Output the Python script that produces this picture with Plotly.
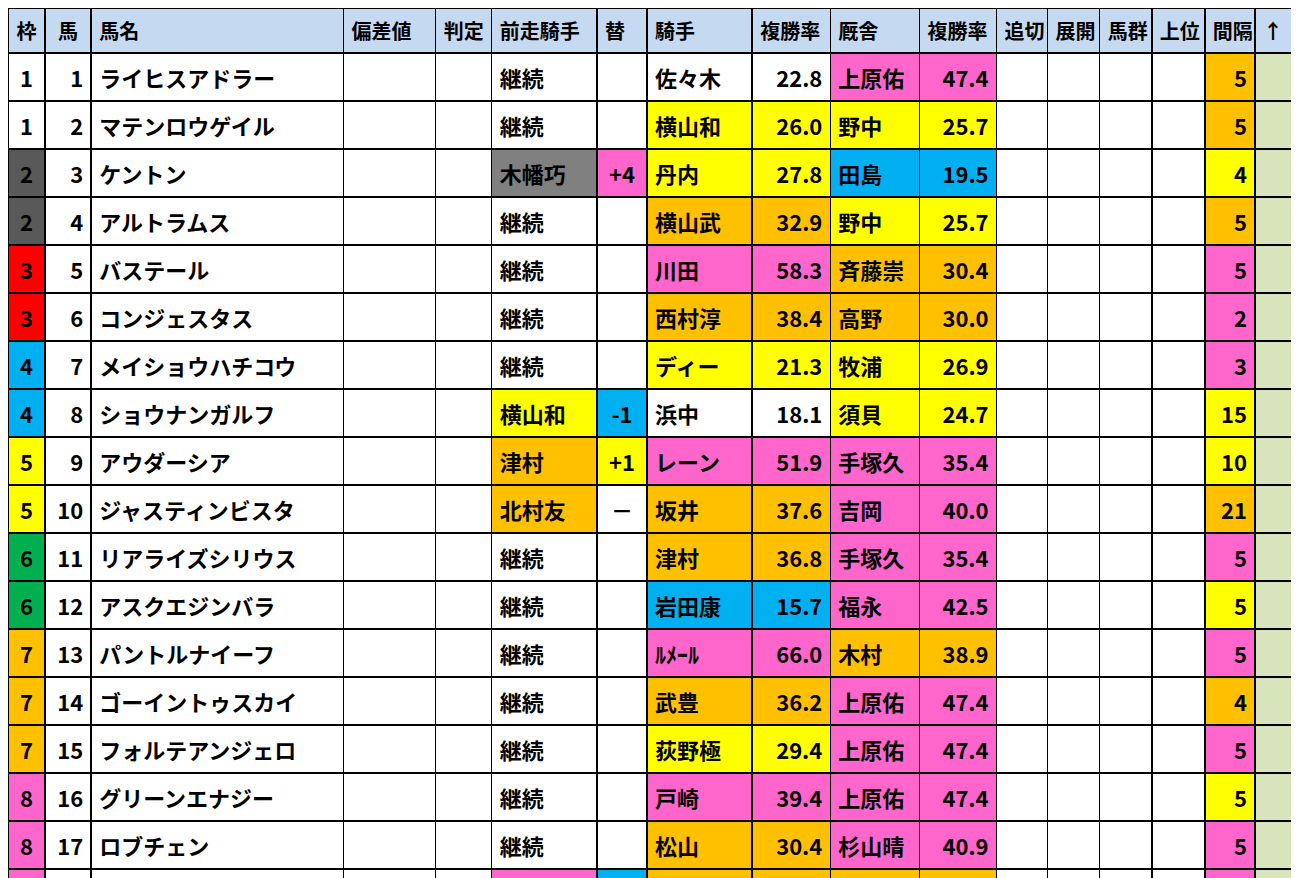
import plotly.graph_objects as go

headers = ['枠', '馬', '馬名', '偏差値', '判定', '前走騎手', '替', '騎手', '複勝率',
           '厩舎', '複勝率', '追切', '展開', '馬群', '上位', '間隔', '↑']

waku = [1, 1, 2, 2, 3, 3, 4, 4, 5, 5, 6, 6, 7, 7, 7, 8, 8, 8]
uma = list(range(1, 19))
names = ['ライヒスアドラー', 'マテンロウゲイル', 'ケントン', 'アルトラムス', 'バステール',
         'コンジェスタス', 'メイショウハチコウ', 'ショウナンガルフ', 'アウダーシア',
         'ジャスティンビスタ', 'リアライズシリウス', 'アスクエジンバラ', 'パントルナイーフ',
         'ゴーイントゥスカイ', 'フォルテアンジェロ', 'グリーンエナジー', 'ロブチェン', 'エムズビギン']
prev_jockey = ['継続', '継続', '木幡巧', '継続', '継続', '継続', '継続', '横山和', '津村',
               '北村友', '継続', '継続', '継続', '継続', '継続', '継続', '継続', '川田']
change = ['', '', '+4', '', '', '', '', '-1', '+1', '－', '', '', '', '', '', '', '', '-1']
jockey = ['佐々木', '横山和', '丹内', '横山武', '川田', '西村淳', 'ディー', '浜中', 'レーン',
          '坂井', '津村', '岩田康', 'ﾙﾒｰﾙ', '武豊', '荻野極', '戸崎', '松山', 'ｺﾞﾝｻﾙﾍﾞ']
jockey_rate = [22.8, 26.0, 27.8, 32.9, 58.3, 38.4, 21.3, 18.1, 51.9, 37.6, 36.8, 15.7,
               66.0, 36.2, 29.4, 39.4, 30.4, 36.7]
trainer = ['上原佑', '野中', '田島', '野中', '斉藤崇', '高野', '牧浦', '須貝', '手塚久', '吉岡',
           '手塚久', '福永', '木村', '上原佑', '上原佑', '上原佑', '杉山晴', '友道']
trainer_rate = [47.4, 25.7, 19.5, 25.7, 30.4, 30.0, 26.9, 24.7, 35.4, 40.0, 35.4, 42.5,
                38.9, 47.4, 47.4, 47.4, 40.9, 30.0]
interval = [5, 5, 4, 5, 5, 2, 3, 15, 10, 21, 5, 5, 5, 4, 5, 5, 5, 2]

# colour codes: W white, Y yellow, O orange, P pink, B blue, G gray
prev_col = list('WWGWWWWYOOWWWWWWWP')
change_col = list('WWPWWWWBYWWWWWWWWB')
jockey_col = list('WYYOPOYWPOOBPOYPOO')
trainer_col = list('PYBYOOYYPPPPOPPPPO')
interval_col = list('OOYOPPPYYOPYPOPYPP')

C = {'W': 'white', 'Y': '#ffff00', 'O': '#ffc000', 'P': '#ff66cc', 'B': '#00b0f0', 'G': '#808080'}
waku_colors = {1: 'white', 2: '#595959', 3: '#ff0000', 4: '#00b0f0', 5: '#ffff00',
               6: '#00b050', 7: '#ffc000', 8: '#ff66cc'}


def bold(col):
    return [f'<b>{v}</b>' if v != '' else '' for v in col]


n = len(uma)
blank = [''] * n
white = ['white'] * n
values = [bold(waku), bold(uma), bold(names), blank, blank, bold(prev_jockey), bold(change),
          bold(jockey), bold([f'{v:.1f}' for v in jockey_rate]), bold(trainer),
          bold([f'{v:.1f}' for v in trainer_rate]),
          blank, blank, blank, blank, bold(interval), blank]
fills = [[waku_colors[w] for w in waku], white, white, white, white,
         [C[c] for c in prev_col], [C[c] for c in change_col],
         [C[c] for c in jockey_col], [C[c] for c in jockey_col],
         [C[c] for c in trainer_col], [C[c] for c in trainer_col],
         white, white, white, white, [C[c] for c in interval_col], ['#d8e4bc'] * n]
aligns = ['center', 'right', 'left', 'center', 'center', 'left', 'center', 'left', 'right',
          'left', 'right', 'center', 'center', 'center', 'center', 'right', 'center']
widths = [37, 46, 252, 92, 56, 105, 50, 105, 78, 89, 77, 51, 52, 52, 53, 50, 52]

font = 'Noto Sans CJK JP'

fig = go.Figure(go.Table(
    columnwidth=widths,
    domain=dict(x=[0, 1], y=[0, 1]),
    header=dict(values=bold(headers), fill_color='#c5d9f1',
                align=['center', 'center'] + ['left'] * 15,
                line=dict(color='black', width=1.5), height=44,
                font=dict(family=font, size=20, color='black')),
    cells=dict(values=values, fill_color=fills, align=aligns,
               line=dict(color='black', width=1.5), height=45.5,
               font=dict(family=font, size=22, color='black')),
))

fig.update_layout(width=1299, height=878, margin=dict(l=0, r=0, t=0, b=0),
                  paper_bgcolor='white')

fig.write_html('out.html')
